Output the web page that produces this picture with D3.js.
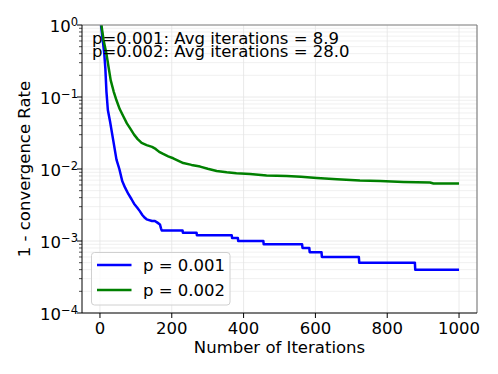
<!DOCTYPE html>
<html>
<head>
<meta charset="utf-8">
<script src="https://cdn.jsdelivr.net/npm/d3@7"></script>
<style>
body { margin: 0; background: white; }
text { font-family: "DejaVu Sans", sans-serif; fill: black; }
</style>
</head>
<body>
<svg id="chart" width="498" height="374"></svg>
<script>
// p = 0.001
var iter_p001 = [3, 8, 12, 15, 18, 22, 28, 37, 46, 54, 62, 70, 79, 88, 95, 104, 111, 118, 125, 130,
    145, 153, 160, 167, 170, 172, 230, 231, 269, 270, 367, 368, 384, 385, 455, 456,
    563, 564, 583, 584, 617, 618, 721, 722, 877, 878, 1000];
var rate_p001 = [1.0, 0.6, 0.4, 0.25, 0.12, 0.066, 0.046, 0.025, 0.0135, 0.0100, 0.0068, 0.0055, 0.0045, 0.0038, 0.0033, 0.0029, 0.0026, 0.0023, 0.0021, 0.0020,
    0.0019, 0.0019, 0.0018, 0.0017, 0.0015, 0.0014, 0.0014, 0.0013, 0.0013, 0.0012, 0.0012, 0.0011, 0.0011, 0.0010, 0.0010, 0.0009,
    0.0009, 0.0008, 0.0008, 0.0007, 0.0007, 0.0006, 0.0006, 0.0005, 0.0005, 0.0004, 0.0004];

// p = 0.002
var iter_p002 = [4, 10, 18, 24, 30, 38, 46, 55, 65, 75, 85, 95, 105, 116, 130, 145, 155, 165, 176, 190,
    204, 232, 255, 279, 300, 325, 353, 380, 418, 464, 520, 560, 604, 660, 724, 780, 845, 919, 929, 1000];
var rate_p002 = [1.0, 0.62, 0.40, 0.26, 0.17, 0.12, 0.09, 0.068, 0.054, 0.043, 0.036, 0.030, 0.026, 0.023, 0.0215, 0.0203, 0.019, 0.0173, 0.0162, 0.015,
    0.0141, 0.0121, 0.0114, 0.0108, 0.0101, 0.0094, 0.009, 0.0087, 0.0085, 0.0081, 0.008, 0.0078, 0.0075, 0.0072, 0.0069, 0.0068, 0.0066, 0.0065, 0.0063, 0.0063];

var p_labels = ["0.001", "0.002"];
var avg_iters = ["8.9", "28.0"];
var series_colors = ["#0000ff", "#008000"];
var x_ticks = [0, 200, 400, 600, 800, 1000];
var y_exponents = [0, -1, -2, -3, -4];

var left = 82, right = 477, top_ = 25, bottom = 313;
var font_size = "16.5px";
var svg = d3.select("#chart");

var x_scale = d3.scaleLinear().domain([-50, 1050]).range([left, right]);
var y_scale = d3.scaleLog().domain([1e-4, 1]).range([bottom, top_]);

function minorValues() {
    var vals = [];
    for (var e = -4; e < 0; e++) {
        for (var m = 2; m <= 9; m++) {
            vals.push(m * Math.pow(10, e));
        }
    }
    return vals;
}

function makeGrid() {
    var g = svg.append("g").attr("class", "grid");
    g.selectAll("line.ymin")
        .data(minorValues())
        .enter()
        .append("line")
        .attr("x1", left).attr("x2", right)
        .attr("y1", function(d){return y_scale(d);})
        .attr("y2", function(d){return y_scale(d);})
        .style("stroke", "#ececec").style("stroke-width", 0.8);
    g.selectAll("line.ymaj")
        .data(y_exponents)
        .enter()
        .append("line")
        .attr("x1", left).attr("x2", right)
        .attr("y1", function(d){return y_scale(Math.pow(10, d));})
        .attr("y2", function(d){return y_scale(Math.pow(10, d));})
        .style("stroke", "#e4e4e4").style("stroke-width", 0.8);
    g.selectAll("line.x")
        .data(x_ticks)
        .enter()
        .append("line")
        .attr("y1", top_).attr("y2", bottom)
        .attr("x1", function(d){return x_scale(d);})
        .attr("x2", function(d){return x_scale(d);})
        .style("stroke", "#e4e4e4").style("stroke-width", 0.8);
}

function drawLines() {
    svg.append("clipPath").attr("id", "plotclip")
        .append("rect")
        .attr("x", left).attr("y", top_)
        .attr("width", right - left).attr("height", bottom - top_);

    var line = d3.line()
        .x(function(d){return x_scale(d[0]);})
        .y(function(d){return y_scale(d[1]);});

    var series = [d3.zip(iter_p001, rate_p001), d3.zip(iter_p002, rate_p002)];
    // green drawn after blue like the original
    svg.append("g").attr("clip-path", "url(#plotclip)")
        .selectAll("path")
        .data(series)
        .enter()
        .append("path")
        .attr("d", line)
        .style("fill", "none")
        .style("stroke", function(d, i){return series_colors[i];})
        .style("stroke-width", 2.5)
        .style("stroke-linejoin", "round");
}

function drawAxes() {
    // spines
    svg.append("line").attr("x1", left).attr("x2", right).attr("y1", top_).attr("y2", top_)
        .style("stroke", "#808080").style("stroke-width", 1);
    svg.append("line").attr("x1", right).attr("x2", right).attr("y1", top_).attr("y2", bottom)
        .style("stroke", "#808080").style("stroke-width", 1.2);
    svg.append("line").attr("x1", left).attr("x2", left).attr("y1", top_).attr("y2", bottom)
        .style("stroke", "black").style("stroke-width", 1);
    svg.append("line").attr("x1", left).attr("x2", right).attr("y1", bottom).attr("y2", bottom)
        .style("stroke", "black").style("stroke-width", 1);

    // x ticks
    var xt = svg.append("g").selectAll("g")
        .data(x_ticks)
        .enter()
        .append("g")
        .attr("transform", function(d){return "translate(" + x_scale(d) + "," + bottom + ")";});
    xt.append("line").attr("y1", 0).attr("y2", 5).style("stroke", "black");
    xt.append("text")
        .attr("y", 21)
        .attr("text-anchor", "middle")
        .style("font-size", font_size)
        .text(function(d){return d;});

    // y minor ticks
    svg.append("g").selectAll("line")
        .data(minorValues())
        .enter()
        .append("line")
        .attr("x1", left - 3).attr("x2", left)
        .attr("y1", function(d){return y_scale(d);})
        .attr("y2", function(d){return y_scale(d);})
        .style("stroke", "black").style("stroke-width", 0.7);

    // y major ticks with 10^n labels
    var yt = svg.append("g").selectAll("g")
        .data(y_exponents)
        .enter()
        .append("g")
        .attr("transform", function(d){return "translate(" + left + "," + y_scale(Math.pow(10, d)) + ")";});
    yt.append("line").attr("x1", -5).attr("x2", 0).style("stroke", "black");
    var lbl = yt.append("text")
        .attr("x", -4)
        .attr("y", 6.7)
        .attr("text-anchor", "end")
        .style("font-size", font_size);
    lbl.append("tspan").text("10");
    lbl.append("tspan")
        .attr("dy", -6)
        .style("font-size", "11.5px")
        .text(function(d){return d < 0 ? "\u2212" + (-d) : d;});

    svg.append("text")
        .attr("x", (left + right) / 2)
        .attr("y", 353)
        .attr("text-anchor", "middle")
        .style("font-size", font_size)
        .text("Number of Iterations");
    svg.append("text")
        .attr("transform", "translate(29.5," + (top_ + bottom) / 2 + ") rotate(-90)")
        .attr("text-anchor", "middle")
        .style("font-size", font_size)
        .text("1 - convergence Rate");
}

function drawNotes() {
    svg.append("g").selectAll("text")
        .data(p_labels)
        .enter()
        .append("text")
        .attr("x", 92)
        .attr("y", function(d, i){return 44.3 + i * 12.4;})
        .style("font-size", font_size)
        .text(function(d, i){return "p=" + d + ": Avg iterations = " + avg_iters[i];});
}

function drawLegend() {
    var lg = svg.append("g");
    lg.append("rect")
        .attr("x", 91.5).attr("y", 252.5)
        .attr("width", 138.5).attr("height", 52.5)
        .attr("rx", 3)
        .style("fill", "white").style("fill-opacity", 0.8)
        .style("stroke", "#d0d0d0").style("stroke-width", 1);
    var item = lg.selectAll("g")
        .data(p_labels)
        .enter()
        .append("g")
        .attr("transform", function(d, i){return "translate(0," + (265 + i * 25) + ")";});
    item.append("line")
        .attr("x1", 97).attr("x2", 131.5)
        .style("stroke", function(d, i){return series_colors[i];})
        .style("stroke-width", 2.5);
    item.append("text")
        .attr("x", 143)
        .attr("y", 6.3)
        .style("font-size", font_size)
        .text(function(d){return "p = " + d;});
}

makeGrid();
drawLines();
drawAxes();
drawNotes();
drawLegend();
</script>
</body>
</html>
